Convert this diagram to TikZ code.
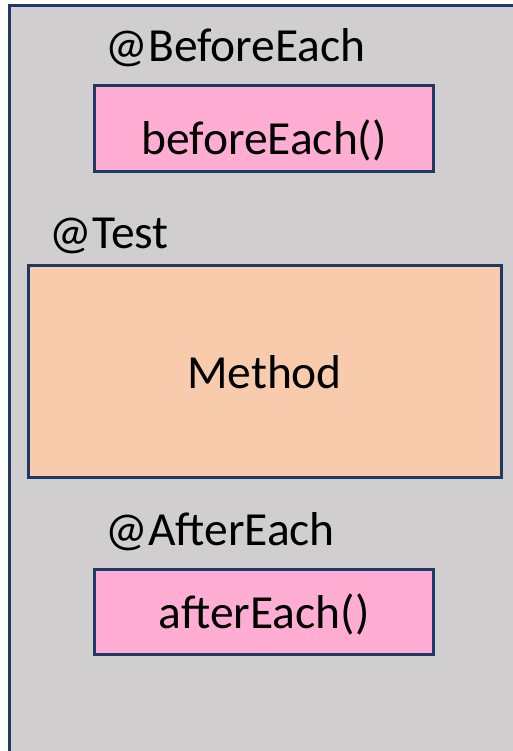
\documentclass[tikz,border=0pt]{standalone}
\usepackage{fontspec}
\setmainfont{Carlito}
\definecolor{frame}{HTML}{1F3864}
\definecolor{panel}{HTML}{D0CECE}
\definecolor{hookpink}{HTML}{FFADD3}
\definecolor{testpeach}{HTML}{F8CBAD}
\tikzset{
  box/.style={draw=frame, line width=3pt, inner sep=0pt},
  hookbox/.style={box, fill=hookpink},
  testbox/.style={box, fill=testpeach},
  txt/.style={inner sep=0pt, font=\fontsize{47.5}{57}\selectfont, text=black},
}
\begin{document}
\begin{tikzpicture}[x=1pt, y=-1pt]
  \useasboundingbox (0,0) rectangle (513,751);
  % outer panel, its right and bottom edges run off the page
  \begin{scope}
    \clip (0,0) rectangle (513,751);
    \draw[draw=frame, fill=panel, line width=3.2pt] (9.6,5.8) rectangle (520,760);
  \end{scope}

  % @BeforeEach
  \node[txt, anchor=base west] (lbefore) at (105.5,61.7) {@BeforeEach};
  \node[hookbox, minimum width=339.2pt, minimum height=85.5pt] (before) at (264.1,128.75) {};
  \node[txt, anchor=base] (tbefore) at (before.center |- 0,155) {beforeEach()};

  % @Test
  \node[txt, anchor=base west] (ltest) at (49.5,248) {@Test};
  \node[testbox, minimum width=473pt, minimum height=212pt] (method) at (264.5,371) {};
  \node[txt, anchor=base] (tmethod) at (method.center |- 0,388) {Method};

  % @AfterEach
  \node[txt, anchor=base west] (lafter) at (105.5,545) {@AfterEach};
  \node[hookbox, minimum width=339.5pt, minimum height=85pt] (after) at (264.2,612) {};
  \node[txt, anchor=base] (tafter) at (after.center |- 0,628) {afterEach()};
\end{tikzpicture}
\end{document}
